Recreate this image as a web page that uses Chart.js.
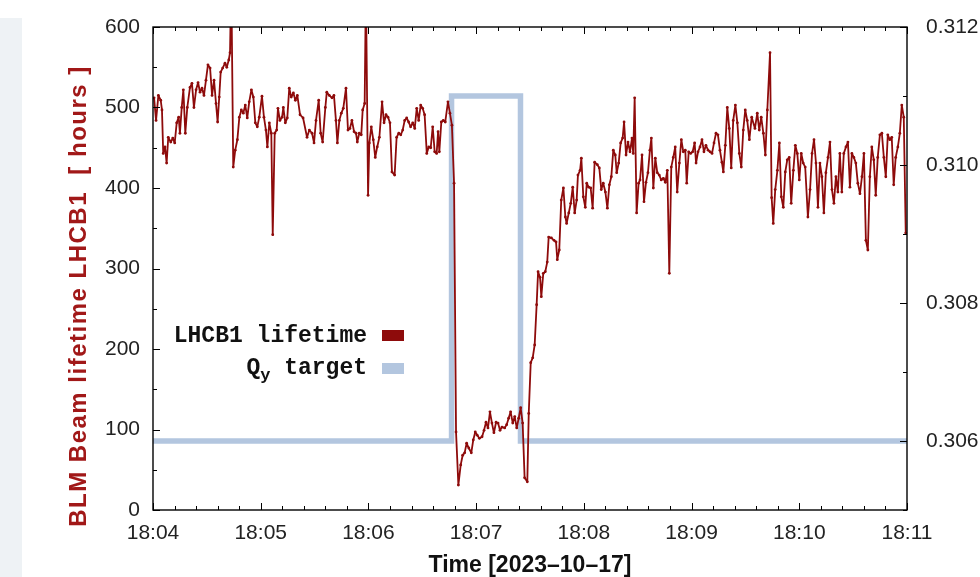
<!DOCTYPE html>
<html>
<head>
<meta charset="utf-8">
<title>BLM Beam lifetime LHCB1</title>
<script src="https://cdn.jsdelivr.net/npm/chart.js@4.4.0/dist/chart.umd.min.js"></script>
<style>
  html, body { margin: 0; padding: 0; background: #fff; }
  #wrap { position: relative; width: 980px; height: 577px; overflow: hidden; }
  #sidePanel { position: absolute; left: 0; top: 18px; width: 22px; height: 559px; background: #eef2f5; }
  #lifetimeChart { position: absolute; left: 0; top: 0; }
</style>
</head>
<body>
<div id="wrap">
  <div id="sidePanel"></div>
  <canvas id="lifetimeChart" width="980" height="577"></canvas>
</div>
<script>
// Time axis: seconds after 18:04:00
const xTickSeconds = [0, 60, 120, 180, 240, 300, 360, 420];
const xTickLabels = ['18:04', '18:05', '18:06', '18:07', '18:08', '18:09', '18:10', '18:11'];
const yTickValues = [0, 100, 200, 300, 400, 500, 600];
const y2TickValues = [0.306, 0.308, 0.310, 0.312];

// LHCB1 lifetime [hours]
const lifetimeSec = [
    0.6, 1.7, 3.0, 4.3, 5.0, 5.7, 6.7, 7.6, 8.5, 9.9, 11.0, 12.1, 13.2, 14.3, 15.0, 16.0, 16.9, 18.0, 19.1, 20.6,
    21.7, 22.8, 24.0, 25.1, 26.2, 27.3, 28.4, 29.5, 30.6, 31.8, 32.9, 34.0, 35.1, 36.0, 36.9, 37.7, 38.8, 40.1, 41.1, 42.2,
    42.9, 43.6, 44.7, 45.8, 47.0, 48.1, 49.2, 50.3, 51.4, 52.5, 53.6, 54.8, 55.9, 57.0, 58.1, 59.2, 60.7, 61.8, 62.9, 63.7,
    64.8, 65.9, 66.7, 67.8, 68.9, 69.6, 70.7, 71.9, 72.6, 73.7, 74.8, 75.9, 77.0, 78.2, 79.3, 80.4, 81.9, 83.6, 85.8, 87.1,
    88.6, 89.7, 90.8, 92.3, 93.4, 94.5, 96.0, 96.8, 98.2, 99.7, 100.8, 101.9, 102.7, 103.8, 104.9, 106.0, 107.5, 108.6, 109.7, 110.8,
    112.0, 113.1, 113.8, 114.9, 116.0, 116.8, 117.9, 118.6, 119.8, 120.5, 121.6, 122.7, 123.8, 124.9, 126.1, 127.6, 128.7, 129.8, 130.9, 132.0,
    133.1, 134.6, 135.7, 136.9, 138.0, 139.1, 140.2, 141.3, 142.4, 143.5, 144.7, 145.8, 146.9, 148.0, 149.1, 150.2, 151.3, 152.5, 153.6, 154.7,
    155.8, 156.9, 158.0, 158.8, 159.5, 160.6, 161.7, 162.8, 164.3, 165.4, 166.5, 167.7, 168.8, 170.1, 171.4, 172.5, 173.6, 174.7, 175.9, 177.3,
    178.4, 179.5, 180.6, 181.8, 183.3, 184.4, 185.5, 186.6, 187.7, 188.8, 189.9, 191.1, 192.2, 193.3, 194.4, 195.9, 197.0, 198.1, 199.2, 200.4,
    201.5, 202.6, 203.7, 204.8, 205.9, 207.0, 208.5, 209.3, 210.4, 211.5, 212.6, 213.7, 214.5, 215.6, 216.3, 217.4, 218.5, 219.6, 220.4, 221.9,
    223.4, 224.5, 225.2, 226.3, 227.4, 228.6, 229.7, 230.4, 231.6, 232.7, 233.8, 234.9, 236.0, 236.7, 237.9, 238.6, 239.7, 240.8, 241.6, 242.7,
    243.8, 244.9, 246.0, 247.5, 248.6, 249.7, 250.8, 252.0, 253.1, 254.2, 255.3, 256.4, 257.5, 258.3, 259.4, 260.5, 261.6, 262.4, 263.5, 264.6,
    265.7, 266.8, 267.5, 268.3, 269.4, 270.5, 271.3, 272.4, 273.5, 274.6, 275.7, 276.8, 277.6, 278.7, 279.8, 280.9, 282.0, 283.1, 284.3, 285.4,
    286.5, 287.6, 288.7, 289.8, 290.9, 292.0, 293.2, 294.3, 295.4, 296.5, 297.3, 298.4, 299.5, 300.6, 301.7, 302.5, 303.6, 304.7, 305.8, 306.9,
    308.0, 309.2, 310.3, 311.4, 312.5, 313.6, 314.7, 315.8, 316.9, 317.7, 318.8, 319.9, 321.0, 322.1, 323.2, 324.4, 325.5, 326.6, 327.7, 328.8,
    329.9, 331.0, 332.2, 333.5, 335.3, 336.6, 337.7, 338.8, 340.0, 341.1, 342.2, 343.7, 344.6, 345.5, 346.6, 347.8, 348.9, 350.0, 351.1, 352.2,
    353.3, 354.4, 355.5, 356.7, 357.8, 358.9, 360.0, 361.1, 362.2, 363.3, 364.8, 366.0, 367.1, 368.2, 369.3, 370.4, 371.5, 372.6, 373.7, 374.8,
    376.0, 377.1, 378.2, 379.3, 380.4, 381.5, 382.6, 383.7, 384.8, 386.0, 387.1, 388.2, 389.3, 390.4, 391.5, 392.6, 393.8, 394.9, 396.0, 397.1,
    398.2, 399.3, 400.4, 401.5, 402.6, 403.7, 404.9, 406.0, 407.1, 408.2, 409.3, 410.4, 411.5, 412.6, 413.7, 414.9, 416.0, 417.1, 418.2, 419.3
];
const lifetimeHours = [
    512, 484, 515, 509, 497, 443, 451, 431, 463, 457, 462, 456, 481, 488, 468, 500, 522, 468, 500, 525,
    530, 500, 522, 531, 519, 524, 515, 534, 553, 549, 515, 534, 505, 482, 513, 544, 549, 555, 550, 559,
    568, 660, 426, 447, 460, 488, 497, 493, 503, 487, 507, 522, 513, 481, 476, 488, 514, 488, 472, 451,
    481, 468, 342, 468, 472, 499, 484, 488, 500, 481, 487, 524, 513, 518, 509, 515, 491, 487, 463, 472,
    468, 456, 484, 509, 468, 457, 500, 519, 515, 512, 515, 484, 456, 484, 493, 499, 524, 472, 474, 484,
    470, 468, 457, 468, 466, 497, 505, 650, 391, 456, 476, 460, 438, 451, 463, 507, 481, 491, 488, 481,
    420, 416, 463, 468, 466, 472, 484, 487, 482, 476, 481, 474, 499, 484, 503, 499, 491, 443, 451, 450,
    476, 445, 443, 470, 445, 482, 484, 482, 507, 493, 478, 406, 97, 31, 56, 68, 71, 83, 77, 71,
    87, 97, 93, 89, 91, 99, 109, 102, 122, 108, 96, 109, 108, 99, 103, 102, 106, 114, 122, 108,
    116, 102, 114, 127, 108, 40, 35, 120, 183, 189, 205, 255, 296, 289, 265, 294, 296, 308, 339, 338,
    335, 333, 311, 323, 385, 400, 364, 356, 369, 381, 401, 369, 385, 416, 422, 437, 389, 376, 406, 401,
    400, 375, 432, 429, 425, 398, 406, 395, 375, 404, 414, 447, 441, 419, 431, 456, 462, 482, 441, 457,
    445, 462, 443, 512, 369, 406, 410, 441, 383, 407, 419, 447, 462, 400, 437, 419, 416, 410, 412, 407,
    422, 294, 426, 438, 451, 395, 431, 460, 445, 447, 406, 445, 443, 445, 456, 431, 445, 451, 460, 445,
    453, 447, 445, 443, 456, 468, 466, 447, 432, 420, 453, 500, 474, 425, 484, 503, 481, 443, 426, 472,
    497, 484, 460, 488, 474, 493, 472, 488, 468, 441, 497, 568, 388, 356, 398, 422, 456, 389, 376, 420,
    435, 438, 381, 422, 453, 443, 410, 443, 431, 426, 364, 398, 443, 460, 431, 376, 431, 414, 369, 419,
    438, 457, 398, 381, 414, 395, 443, 395, 443, 451, 457, 401, 443, 438, 431, 406, 393, 414, 443, 335,
    323, 414, 451, 435, 391, 438, 466, 468, 438, 414, 466, 460, 463, 404, 438, 451, 468, 503, 488, 344
];

// Qy target (step change)
const qySec = [0, 166.3, 166.3, 204.7, 204.7, 420];
const qyTarget = [0.306, 0.306, 0.311, 0.311, 0.306, 0.306];

const RED = '#8e0b0b';
const BLUE = '#b3c6df';
const TICK_FONT = { family: '"Liberation Sans", Arial, sans-serif', size: 21 };

// inward ticks + frame, gnuplot style
const frameAndTicks = {
    id: 'frameAndTicks',
    afterDatasetsDraw(chart) {
        const { ctx, chartArea: a, scales } = chart;
        ctx.save();
        ctx.strokeStyle = '#000';
        ctx.lineWidth = 1;
        ctx.beginPath();
        for (let s = 0; s <= 420; s += 12) {
            const x = Math.round(scales.x.getPixelForValue(s)) + 0.5;
            const len = s % 60 === 0 ? 7 : 4;
            ctx.moveTo(x, a.bottom); ctx.lineTo(x, a.bottom - len);
            ctx.moveTo(x, a.top); ctx.lineTo(x, a.top + len);
        }
        for (let v = 0; v <= 600; v += 50) {
            const y = Math.round(scales.y.getPixelForValue(v)) + 0.5;
            const len = v % 100 === 0 ? 7 : 4;
            ctx.moveTo(a.left, y); ctx.lineTo(a.left + len, y);
        }
        for (let k = 305; k <= 312; k++) {
            const y = Math.round(scales.y2.getPixelForValue(k / 1000)) + 0.5;
            const len = k % 2 === 0 ? 7 : 4;
            ctx.moveTo(a.right, y); ctx.lineTo(a.right - len, y);
        }
        ctx.stroke();
        ctx.lineWidth = 1.4;
        ctx.strokeRect(a.left, a.top, a.right - a.left, a.bottom - a.top);
        ctx.restore();
    }
};

// axis titles and key
const titlesAndKey = {
    id: 'titlesAndKey',
    afterDraw(chart) {
        const ctx = chart.ctx;
        ctx.save();

        ctx.fillStyle = '#a11818';
        ctx.font = 'bold 24px "Liberation Sans", Arial, sans-serif';
        ctx.textAlign = 'center';
        ctx.textBaseline = 'middle';
        ctx.letterSpacing = '1.5px';
        ctx.translate(79, 296);
        ctx.rotate(-Math.PI / 2);
        ctx.fillText('BLM Beam lifetime LHCB1  [ hours ]', 0, 0);
        ctx.setTransform(1, 0, 0, 1, 0, 0);
        ctx.letterSpacing = '0px';

        ctx.fillStyle = '#111';
        ctx.font = 'bold 23px "Liberation Sans", Arial, sans-serif';
        ctx.fillText('Time [2023\u201310\u201317]', 530, 566);

        // key
        const right = 367;
        ctx.textAlign = 'right';
        ctx.font = 'bold 23px "Liberation Mono", "Courier New", monospace';
        ctx.fillText('LHCB1 lifetime', right, 336);
        ctx.fillText('target', right, 368);
        const tw = ctx.measureText(' target').width;
        ctx.font = 'bold 17px "Liberation Mono", "Courier New", monospace';
        const sub = 'y';
        const sw = ctx.measureText(sub).width;
        ctx.fillText(sub, right - tw, 376);
        ctx.font = 'bold 23px "Liberation Mono", "Courier New", monospace';
        ctx.fillText('Q', right - tw - sw, 368);

        ctx.fillStyle = RED;
        ctx.fillRect(382, 330, 22, 11);
        ctx.fillStyle = BLUE;
        ctx.fillRect(382, 363, 22, 11);
        ctx.restore();
    }
};

new Chart(document.getElementById('lifetimeChart'), {
    type: 'line',
    data: {
        datasets: [{
            label: 'LHCB1 lifetime',
            data: lifetimeSec.map((t, i) => ({ x: t, y: lifetimeHours[i] })),
            yAxisID: 'y',
            borderColor: RED,
            backgroundColor: RED,
            borderWidth: 1.8,
            borderJoinStyle: 'round',
            pointRadius: 1.4,
            pointBorderWidth: 0,
            pointBackgroundColor: RED,
            tension: 0,
            order: 0
        }, {
            label: 'Qy target',
            data: qySec.map((t, i) => ({ x: t, y: qyTarget[i] })),
            yAxisID: 'y2',
            borderColor: BLUE,
            borderWidth: 5.5,
            borderCapStyle: 'butt',
            borderJoinStyle: 'miter',
            pointRadius: 0,
            tension: 0,
            order: 1
        }]
    },
    options: {
        responsive: false,
        animation: false,
        layout: { padding: { top: 27, left: 0, right: 0, bottom: 0 } },
        plugins: {
            legend: { display: false },
            tooltip: { enabled: false }
        },
        scales: {
            x: {
                type: 'linear',
                min: 0,
                max: 420,
                grid: { display: false },
                border: { display: false },
                afterBuildTicks: (scale) => { scale.ticks = xTickSeconds.map(v => ({ value: v })); },
                afterFit: (scale) => { scale.height = 67; },
                ticks: {
                    font: TICK_FONT,
                    color: '#222',
                    padding: 3,
                    maxRotation: 0,
                    autoSkip: false,
                    callback: (v) => xTickLabels[xTickSeconds.indexOf(v)]
                }
            },
            y: {
                position: 'left',
                min: 0,
                max: 600,
                grid: { display: false },
                border: { display: false },
                afterBuildTicks: (scale) => { scale.ticks = yTickValues.map(v => ({ value: v })); },
                afterFit: (scale) => { scale.width = 153; },
                ticks: { font: TICK_FONT, color: '#222', padding: 5 }
            },
            y2: {
                position: 'right',
                min: 0.305,
                max: 0.312,
                grid: { display: false },
                border: { display: false },
                afterBuildTicks: (scale) => { scale.ticks = y2TickValues.map(v => ({ value: v })); },
                afterFit: (scale) => { scale.width = 73; },
                ticks: {
                    font: TICK_FONT,
                    color: '#222',
                    padding: 11,
                    autoSkip: false,
                    callback: (v) => v.toFixed(3)
                }
            }
        }
    },
    plugins: [frameAndTicks, titlesAndKey]
});
</script>
</body>
</html>
